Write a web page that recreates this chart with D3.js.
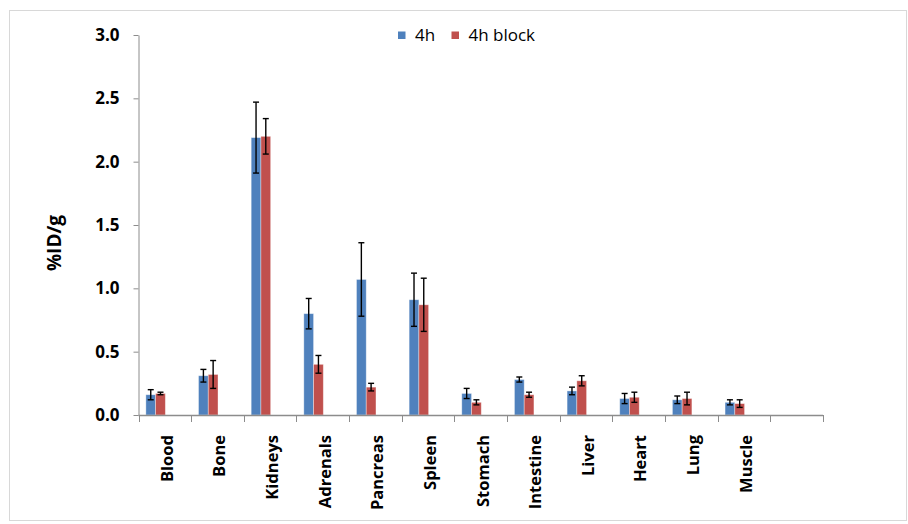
<!DOCTYPE html>
<html>
<head>
<meta charset="utf-8">
<script src="https://cdn.jsdelivr.net/npm/d3@7"></script>
<style>
  html, body { margin: 0; padding: 0; background: #fff; }
  svg { display: block; }
  text { font-family: "Open Sans", "Liberation Sans", sans-serif; fill: #000; }
</style>
</head>
<body>
<svg id="chart" width="908" height="524"></svg>
<script>
// Biodistribution at 4 h, with and without blocking (%ID/g, mean ± SD)
const categories = ["Blood", "Bone", "Kidneys", "Adrenals", "Pancreas", "Spleen",
                    "Stomach", "Intestine", "Liver", "Heart", "Lung", "Muscle"];
const seriesNames = ["4h", "4h block"];
const values4h      = [0.16, 0.31, 2.19, 0.80, 1.07, 0.91, 0.17, 0.28, 0.19, 0.13, 0.12, 0.10];
const errors4h      = [0.04, 0.05, 0.28, 0.12, 0.29, 0.21, 0.04, 0.02, 0.03, 0.04, 0.03, 0.02];
const values4hBlock = [0.17, 0.32, 2.20, 0.40, 0.22, 0.87, 0.10, 0.16, 0.27, 0.14, 0.13, 0.09];
const errors4hBlock = [0.01, 0.11, 0.14, 0.07, 0.03, 0.21, 0.02, 0.02, 0.04, 0.04, 0.05, 0.03];
const yTicks = [0, 0.5, 1.0, 1.5, 2.0, 2.5, 3.0];
const yTitle = "%ID/g";
const colors = ["#4F81BD", "#C0504D"];

const svg = d3.select("#chart");
const axisColor = "#8c8c8c";

// chart frame
svg.append("rect")
  .attr("x", 9.5).attr("y", 10.5).attr("width", 897).attr("height", 510)
  .attr("fill", "none").attr("stroke", "#b0b0b0").attr("stroke-width", 1)
  .attr("stroke-dasharray", "1,1");

// one spare slot at the right end of the category axis
const slots = categories.concat(["~"]);
const x = d3.scaleBand().domain(slots).range([138.5, 823]).padding(0);
const y = d3.scaleLinear().domain([0, 3]).range([415, 35]);

const bw = x.bandwidth();
const inner = d3.scaleBand().domain(seriesNames)
  .range([0.14 * bw, 0.14 * bw + 2 * 0.185 * bw]).padding(0);

const rows = categories.map((c, i) => ({
  cat: c,
  items: [
    { s: seriesNames[0], v: values4h[i], e: errors4h[i], color: colors[0] },
    { s: seriesNames[1], v: values4hBlock[i], e: errors4hBlock[i], color: colors[1] }
  ]
}));

// y axis
const yAxis = d3.axisLeft(y).tickValues(yTicks).tickFormat(d3.format(".1f"))
  .tickSizeInner(5).tickSizeOuter(0).tickPadding(14);
const gy = svg.append("g").attr("transform", "translate(138.5,0)").call(yAxis);
gy.selectAll("path, line").attr("stroke", axisColor);
gy.selectAll("text").attr("font-size", 17).attr("font-weight", "bold")
  .attr("font-family", "'Open Sans', sans-serif").attr("fill", "#000");

// bars
const groups = svg.append("g").selectAll("g.cat").data(rows).join("g")
  .attr("class", "cat").attr("transform", d => `translate(${x(d.cat)},0)`);

groups.selectAll("rect").data(d => d.items).join("rect")
  .attr("x", d => inner(d.s))
  .attr("width", inner.bandwidth())
  .attr("y", d => y(d.v))
  .attr("height", d => y(0) - y(d.v))
  .attr("fill", d => d.color)
  .attr("stroke", "rgba(255,255,255,0.45)")
  .attr("stroke-width", 0.8);

// error bars
const eb = groups.selectAll("g.err").data(d => d.items).join("g").attr("class", "err")
  .attr("transform", d => `translate(${inner(d.s) + inner.bandwidth() / 2},0)`)
  .attr("stroke", "#000").attr("stroke-width", 1.4);
eb.append("line").attr("x1", 0).attr("x2", 0)
  .attr("y1", d => y(d.v + d.e)).attr("y2", d => y(d.v - d.e));
eb.append("line").attr("x1", -3).attr("x2", 3)
  .attr("y1", d => y(d.v + d.e)).attr("y2", d => y(d.v + d.e));
eb.append("line").attr("x1", -3).attr("x2", 3)
  .attr("y1", d => y(d.v - d.e)).attr("y2", d => y(d.v - d.e));

// x axis: line with ticks on category boundaries
const gx = svg.append("g");
gx.append("line").attr("x1", x.range()[0]).attr("x2", x.range()[1])
  .attr("y1", y(0) + 0.5).attr("y2", y(0) + 0.5)
  .attr("stroke", axisColor).attr("stroke-width", 1.5);
const boundaries = slots.map(s => x(s)).concat([x.range()[1]]);
gx.selectAll("line.tick").data(boundaries).join("line").attr("class", "tick")
  .attr("x1", d => Math.round(d) + 0.5).attr("x2", d => Math.round(d) + 0.5)
  .attr("y1", y(0)).attr("y2", y(0) + 7)
  .attr("stroke", axisColor).attr("stroke-width", 1);

// category labels, rotated
svg.append("g").selectAll("text").data(categories).join("text")
  .attr("transform", d => `translate(${x(d) + bw / 2 + 2},435) rotate(-90)`)
  .attr("text-anchor", "end").attr("dy", "0.35em")
  .attr("font-size", 16.5).attr("font-weight", "bold")
  .text(d => d);

// y axis title
svg.append("text")
  .attr("transform", "translate(54,243) rotate(-90)")
  .attr("text-anchor", "middle").attr("dy", "0.35em")
  .attr("font-size", 19).attr("font-weight", "bold")
  .text(yTitle);

// legend
const legendX = [398, 451.5];
const lg = svg.append("g").selectAll("g").data(seriesNames).join("g")
  .attr("transform", (d, i) => `translate(${legendX[i]},0)`);
lg.append("rect").attr("x", 0).attr("y", 31.5).attr("width", 7.5).attr("height", 7.5)
  .attr("fill", (d, i) => colors[i]);
lg.append("text").attr("x", 17).attr("y", 40.5)
  .attr("font-size", 17).text(d => d);
</script>
</body>
</html>
